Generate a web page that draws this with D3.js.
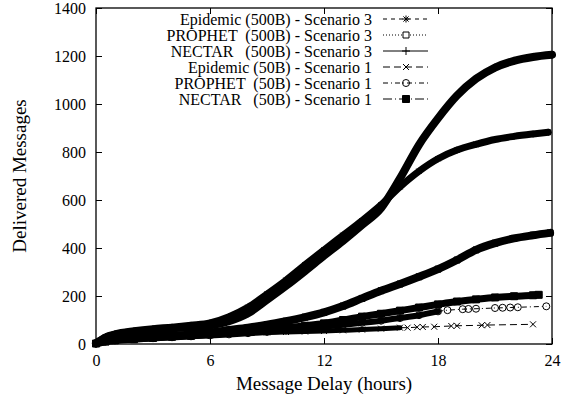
<!DOCTYPE html>
<html>
<head>
<meta charset="utf-8">
<script src="https://cdn.jsdelivr.net/npm/d3@7/dist/d3.min.js"></script>
<style>
  body { margin: 0; background: #fff; }
  svg, svg text { font-family: "Liberation Serif", "DejaVu Serif", serif; }
  .tick text { font-size: 16px; fill: #000; }
  .legend text { font-size: 16px; white-space: pre; }
</style>
</head>
<body>
<div class="chart"></div>
<script>
// Data (delivered messages vs. delay in hours)
var delayHours = [0, 0.5, 1, 2, 3, 4, 5, 6, 7, 8, 9, 10, 11, 12, 13, 14, 15, 16, 17, 18, 19, 20, 21, 22, 23];

var epidemic500 = [5, 30, 42, 55, 64, 70, 78, 88, 114, 153, 208, 266, 330, 392, 453, 514, 580, 655, 720, 772, 808, 832, 852, 865, 875];
var prophet500  = [2, 12, 18, 25, 30, 35, 40, 48, 58, 68, 80, 95, 112, 132, 158, 190, 222, 250, 280, 312, 350, 392, 420, 440, 453];
var nectar500   = [3, 25, 38, 50, 58, 65, 70, 77, 95, 128, 184, 242, 304, 368, 430, 496, 566, 690, 830, 940, 1035, 1105, 1152, 1180, 1196];
var epidemic50  = [3, 15, 22, 28, 32, 36, 39, 42, 44, 46, 48, 50, 52, 54, 57, 60, 64, 68];
var prophet50   = [2, 10, 15, 20, 24, 28, 32, 36, 40, 45, 50, 56, 63, 72, 80, 88, 97, 108, 120, 136];
var nectar50    = [2, 10, 15, 20, 25, 30, 34, 40, 46, 53, 60, 67, 76, 86, 100, 114, 126, 139, 152, 165, 177, 186, 194, 199, 203];

// last delivered message of each run
var endHours  = [23.8, 23.9, 24, null, null, 23.3];
var endCounts = [882, 463, 1205, null, null, 205];

// sparse tails (single deliveries)
var epidemic50TailHours  = [16.4, 16.9, 17.2, 17.8, 18.7, 19.0, 20.3, 20.6, 23.0];
var epidemic50TailCounts = [68, 70, 71, 72, 75, 76, 78, 79, 82];
var prophet50TailHours   = [18.5, 19.3, 19.6, 20.0, 21.0, 21.4, 21.8, 22.2, 23.7];
var prophet50TailCounts  = [141, 145, 146, 147, 150, 151, 152, 153, 157];

var seriesNames = ["Epidemic (500B) - Scenario 3", "PROPHET  (500B) - Scenario 3", "NECTAR   (500B) - Scenario 3",
                   "Epidemic (50B) - Scenario 1", "PROPHET  (50B) - Scenario 1", "NECTAR   (50B) - Scenario 1"];
var xTicks = [0, 6, 12, 18, 24];
var yTicks = [0, 200, 400, 600, 800, 1000, 1200, 1400];

var svgWidth = 570, svgHeight = 400;
var margin = { top: 8, right: 18, bottom: 56, left: 96 };
var width = svgWidth - margin.left - margin.right;
var height = svgHeight - margin.top - margin.bottom;

var svg = d3.select(".chart").append("svg")
  .attr("width", svgWidth)
  .attr("height", svgHeight);

var chartGroup = svg.append("g")
  .attr("transform", `translate(${margin.left}, ${margin.top})`);

var xScale = d3.scaleLinear().domain([0, 24]).range([0, width]);
var yScale = d3.scaleLinear().domain([0, 1400]).range([height, 0]);

// axes, gnuplot style: ticks point inward and are mirrored
chartGroup.append("g")
  .attr("transform", `translate(0, ${height})`)
  .call(d3.axisBottom(xScale).tickValues(xTicks).tickFormat(d3.format("d")).tickSize(-6).tickSizeOuter(0).tickPadding(11));
chartGroup.append("g")
  .call(d3.axisLeft(yScale).tickValues(yTicks).tickFormat(d3.format("d")).tickSize(-6).tickSizeOuter(0).tickPadding(10));
chartGroup.append("g")
  .call(d3.axisTop(xScale).tickValues(xTicks).tickSize(-6).tickSizeOuter(0).tickFormat(""));
chartGroup.append("g")
  .attr("transform", `translate(${width}, 0)`)
  .call(d3.axisRight(yScale).tickValues(yTicks).tickSize(-6).tickSizeOuter(0).tickFormat(""));
chartGroup.selectAll(".domain").remove();
chartGroup.selectAll(".tick line").attr("stroke", "#000");
chartGroup.selectAll("g").attr("font-family", null).attr("font-size", null);
chartGroup.selectAll(".tick text")
  .style("font-family", "'Liberation Serif', serif")
  .style("font-size", "16px");

// marker shapes
var symbols = {
  star: "M-3.5,0H3.5M0,-3.5V3.5M-2.6,-2.6L2.6,2.6M-2.6,2.6L2.6,-2.6",
  square: "M-3,-3H3V3H-3Z",
  plus: "M-4,0H4M0,-4V4",
  cross: "M-3,-3L3,3M-3,3L3,-3",
  circle: "M3.5,0A3.5,3.5 0 1,1 -3.5,0A3.5,3.5 0 1,1 3.5,0Z",
  filled: "M-3.5,-3.5H3.5V3.5H-3.5Z"
};

var series = [
  { values: epidemic500, symbol: "star",   dash: "4,4",      band: 7 },
  { values: prophet500,  symbol: "square", dash: "1,2",      band: 8 },
  { values: nectar500,   symbol: "plus",   dash: null,       band: 8 },
  { values: epidemic50,  symbol: "cross",  dash: "7,4",      band: 5, tailH: epidemic50TailHours, tailC: epidemic50TailCounts },
  { values: prophet50,   symbol: "circle", dash: "5,3,1,3",  band: 6, tailH: prophet50TailHours, tailC: prophet50TailCounts },
  { values: nectar50,    symbol: "filled", dash: "9,3,1,3",  band: 7 }
];

var line = d3.line()
  .x(d => xScale(d[0]))
  .y(d => yScale(d[1]))
  .curve(d3.curveMonotoneX);

function drawMarker(g, s, p) {
  g.append("path")
    .attr("transform", `translate(${xScale(p[0])}, ${yScale(p[1])})`)
    .attr("d", symbols[s.symbol])
    .attr("fill", s.symbol === "filled" ? "#000" : "none")
    .attr("stroke", "#000")
    .attr("stroke-width", 1);
}

series.forEach(function (s, i) {
  var pts = s.values.map((v, j) => [delayHours[j], v]);
  if (endHours[i] !== null) pts.push([endHours[i], endCounts[i]]);
  var g = chartGroup.append("g");

  // dense part: many overlapping markers give a thick band
  g.append("path")
    .attr("d", line(pts))
    .attr("fill", "none")
    .attr("stroke", "#000")
    .attr("stroke-width", s.band)
    .attr("stroke-linecap", "round")
    .attr("stroke-linejoin", "round");
  pts.forEach(p => drawMarker(g, s, p));

  // sparse tail: thin styled line with single markers
  if (s.tailH) {
    var tail = [pts[pts.length - 1]].concat(s.tailH.map((h, j) => [h, s.tailC[j]]));
    g.append("path")
      .attr("d", d3.line().x(d => xScale(d[0])).y(d => yScale(d[1]))(tail))
      .attr("fill", "none")
      .attr("stroke", "#000")
      .attr("stroke-width", 1)
      .attr("stroke-dasharray", s.dash);
    tail.slice(1).forEach(p => drawMarker(g, s, p));
  }
});

// border box
chartGroup.append("rect")
  .attr("width", width)
  .attr("height", height)
  .attr("fill", "none")
  .attr("stroke", "#000")
  .attr("stroke-width", 1.3);

// legend
var legend = chartGroup.append("g").attr("class", "legend");
seriesNames.forEach(function (name, i) {
  var yPos = 11 + i * 16;
  legend.append("text")
    .attr("x", 276)
    .attr("y", yPos)
    .attr("dy", "0.35em")
    .attr("text-anchor", "end")
    .text(name);
  legend.append("line")
    .attr("x1", 287).attr("x2", 332)
    .attr("y1", yPos).attr("y2", yPos)
    .attr("stroke", "#000")
    .attr("stroke-width", 1)
    .attr("stroke-dasharray", series[i].dash);
  legend.append("path")
    .attr("transform", `translate(310, ${yPos})`)
    .attr("d", symbols[series[i].symbol])
    .attr("fill", series[i].symbol === "filled" ? "#000" : (series[i].symbol === "square" ? "#fff" : "none"))
    .attr("stroke", "#000");
});

// axis labels
svg.append("text")
  .attr("transform", `translate(26, ${margin.top + height / 2}) rotate(-90)`)
  .attr("text-anchor", "middle")
  .style("font-size", "19px")
  .text("Delivered Messages");

svg.append("text")
  .attr("x", margin.left + width / 2)
  .attr("y", 390)
  .attr("text-anchor", "middle")
  .style("font-size", "19px")
  .text("Message Delay (hours)");
</script>
</body>
</html>
